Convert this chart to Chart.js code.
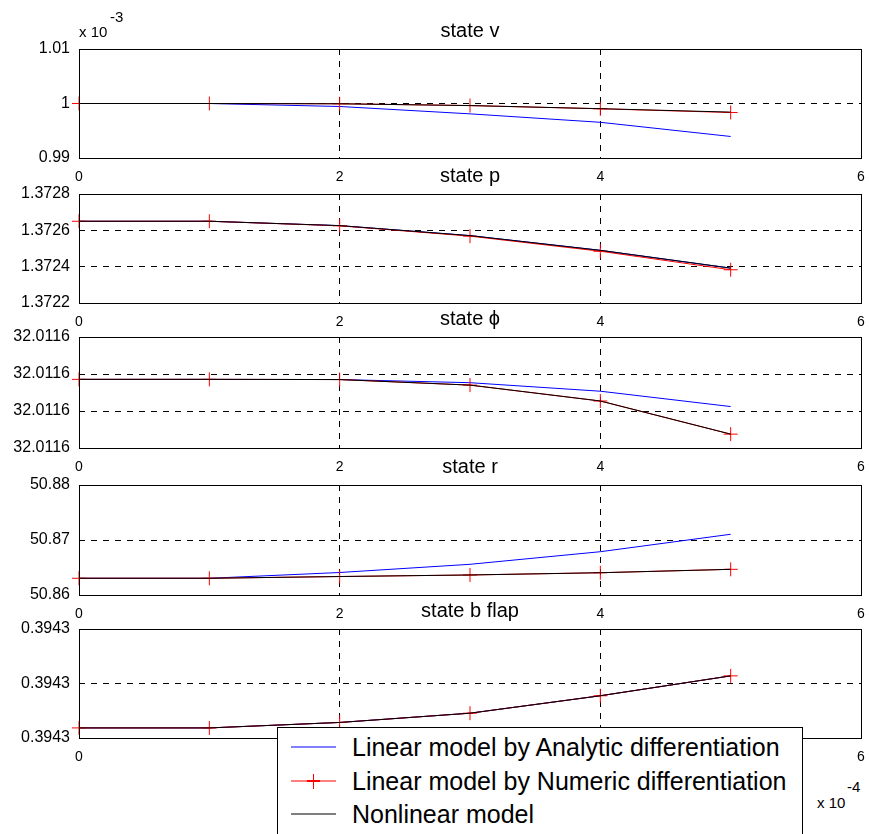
<!DOCTYPE html>
<html>
<head>
<meta charset="utf-8">
<title>States</title>
<script src="https://cdn.jsdelivr.net/npm/chart.js@4.4.1/dist/chart.umd.min.js"></script>
<style>
  html, body { margin: 0; padding: 0; background: #fff; }
  body { width: 869px; height: 834px; overflow: hidden; position: relative;
         font-family: Arial, "Liberation Sans", Helvetica, sans-serif; color: #000; }
  canvas { position: absolute; left: 0; }
  .exp { position: absolute; font-size: 15px; line-height: 16px; white-space: nowrap; z-index: 6; }
  #legend { position: absolute; left: 277px; top: 727px; width: 526px; height: 120px;
            border: 1px solid #000; background: #fff; z-index: 5; box-sizing: border-box; }
  .row { position: absolute; left: 0; width: 100%; height: 30px; font-size: 25px; line-height: 30px; }
  .row svg { position: absolute; left: 13px; top: 0; }
  .row .label { position: absolute; left: 74px; top: 0; white-space: nowrap; }
</style>
</head>
<body>

<canvas id="panel0"></canvas>
<canvas id="panel1"></canvas>
<canvas id="panel2"></canvas>
<canvas id="panel3"></canvas>
<canvas id="panel4"></canvas>

<span class="exp" style="left:79px; top:24px;">x 10</span>
<span class="exp" style="left:110px; top:9px;">-3</span>
<span class="exp" style="left:817px; top:795px;">x 10</span>
<span class="exp" style="left:847px; top:779px;">-4</span>

<div id="legend">
  <div class="row" style="top:4px;">
    <svg width="46" height="30"><line x1="0" y1="15" x2="45" y2="15" stroke="#0000ff" stroke-width="1.2"/></svg>
    <span class="label">Linear model by Analytic differentiation</span>
  </div>
  <div class="row" style="top:38px;">
    <svg width="46" height="30"><line x1="0" y1="15" x2="45" y2="15" stroke="#ff0000" stroke-width="1.2"/>
      <line x1="16" y1="15" x2="29" y2="15" stroke="#ff0000" stroke-width="2"/>
      <line x1="22.5" y1="8" x2="22.5" y2="23" stroke="#ff0000" stroke-width="1"/></svg>
    <span class="label">Linear model by Numeric differentiation</span>
  </div>
  <div class="row" style="top:71px;">
    <svg width="46" height="30"><line x1="0" y1="15" x2="45" y2="15" stroke="#000" stroke-width="1.2"/></svg>
    <span class="label">Nonlinear model</span>
  </div>
</div>

<script>
  // time samples (x 10^-4)
  const xValues = [0, 1, 2, 3, 4, 5];
  const xTicks = [0, 2, 4, 6];

  // state v (x 10^-3)
  const vAnalytic = [1.0000, 1.0000, 0.99945, 0.9981, 0.99655, 0.99395];
  const vNumeric = [1.0000, 1.0000, 0.99995, 0.99962, 0.99903, 0.99835];
  const vNonlinear = [1.0000, 1.0000, 0.99995, 0.99962, 0.99905, 0.99842];
  const vTicks = [0.99, 1.0, 1.01];
  const vTickLabels = ['0.99', '1', '1.01'];

  // state p
  const pAnalytic = [1.37265, 1.37265, 1.372626, 1.372571, 1.37249, 1.372392];
  const pNumeric = [1.37265, 1.37265, 1.372625, 1.372568, 1.372485, 1.372383];
  const pNonlinear = [1.37265, 1.37265, 1.372626, 1.372571, 1.37249, 1.372392];
  const pTicks = [1.3722, 1.3724, 1.3726, 1.3728];
  const pTickLabels = ['1.3722', '1.3724', '1.3726', '1.3728'];

  // state phi
  const phiAnalytic = [32.0116171, 32.0116171, 32.0116170, 32.0116153, 32.0116107, 32.0116024];
  const phiNumeric = [32.0116171, 32.0116171, 32.0116170, 32.0116140, 32.0116054, 32.0115875];
  const phiNonlinear = [32.0116171, 32.0116171, 32.0116170, 32.0116140, 32.0116054, 32.0115875];
  const phiTicks = [32.01158, 32.01160, 32.01162, 32.01164];
  const phiTickLabels = ['32.0116', '32.0116', '32.0116', '32.0116'];

  // state r
  const rAnalytic = [50.86304, 50.86304, 50.86409, 50.86558, 50.86787, 50.87104];
  const rNumeric = [50.86304, 50.86304, 50.86336, 50.86364, 50.86405, 50.86467];
  const rNonlinear = [50.86304, 50.86304, 50.86336, 50.86364, 50.86405, 50.86467];
  const rTicks = [50.86, 50.87, 50.88];
  const rTickLabels = ['50.86', '50.87', '50.88'];

  // state b flap
  const bAnalytic = [0.3942837, 0.3942837, 0.3942857, 0.3942891, 0.3942955, 0.3943028];
  const bNumeric = [0.3942837, 0.3942837, 0.3942857, 0.3942891, 0.3942955, 0.3943028];
  const bNonlinear = [0.3942837, 0.3942837, 0.3942857, 0.3942891, 0.3942955, 0.3943028];
  const bTicks = [0.39428, 0.39430, 0.39432];
  const bTickLabels = ['0.3943', '0.3943', '0.3943'];

  const titles = ['state v', 'state p', 'state \u03D5', 'state r', 'state b flap'];

  // plot area placement on the page
  const plotTops = [49, 194, 337, 485, 629];
  const plotBottoms = [158, 303, 448, 595, 738];
  const TOP_SPACE = 30;
  const BOTTOM_SPACE = 30;

  const FONT = 'Arial, "Liberation Sans", Helvetica, sans-serif';
  Chart.defaults.font.family = FONT;
  Chart.defaults.color = '#000';

  const frame = {
    id: 'frame',
    afterDatasetsDraw(chart) {
      const a = chart.chartArea;
      const ctx = chart.ctx;
      ctx.save();
      ctx.strokeStyle = '#000';
      ctx.lineWidth = 1;
      ctx.setLineDash([]);
      ctx.strokeRect(Math.round(a.left) + 0.5, Math.round(a.top) + 0.5,
        Math.round(a.right - a.left), Math.round(a.bottom - a.top));
      ctx.restore();
    }
  };

  function points(ys) {
    return xValues.map((x, i) => ({ x: x, y: ys[i] }));
  }

  function makePanel(idx, analytic, numeric, nonlinear, yTicks, yTickLabels) {
    const el = document.getElementById('panel' + idx);
    const plotH = plotBottoms[idx] - plotTops[idx];
    el.width = 869;
    el.height = TOP_SPACE + plotH + BOTTOM_SPACE;
    el.style.top = (plotTops[idx] - TOP_SPACE) + 'px';

    new Chart(el, {
      type: 'line',
      data: {
        datasets: [
          { label: 'Nonlinear model', data: points(nonlinear), borderColor: '#000', borderWidth: 1,
            pointRadius: 0, tension: 0, order: 1 },
          { label: 'Linear model by Numeric differentiation', data: points(numeric), borderColor: '#ff0000',
            borderWidth: 1, pointStyle: 'cross', pointRadius: 7, pointBorderColor: '#ff0000',
            pointBorderWidth: 1, tension: 0, order: 2, clip: false },
          { label: 'Linear model by Analytic differentiation', data: points(analytic), borderColor: '#0000ff',
            borderWidth: 1, pointRadius: 0, tension: 0, order: 3 }
        ]
      },
      options: {
        responsive: false,
        animation: false,
        devicePixelRatio: 1,
        events: [],
        layout: { padding: { top: 0, right: 6, bottom: 0, left: 0 } },
        plugins: {
          legend: { display: false },
          tooltip: { enabled: false },
          title: {
            display: true,
            text: titles[idx],
            fullSize: false,
            color: '#000',
            font: { size: 20, weight: 'normal', family: FONT },
            padding: { top: 0, bottom: 6 }
          }
        },
        scales: {
          x: {
            type: 'linear',
            min: xTicks[0],
            max: xTicks[xTicks.length - 1],
            afterBuildTicks: (s) => { s.ticks = xTicks.map(v => ({ value: v })); },
            afterFit: (s) => { s.height = BOTTOM_SPACE; s.paddingLeft = 0; s.paddingRight = 0; },
            grid: { color: '#000', lineWidth: 1, drawTicks: false },
            border: { display: false, dash: [6, 6] },
            ticks: { autoSkip: false, maxRotation: 0, padding: 11, color: '#000',
              font: { size: 14 }, callback: (v) => String(v) }
          },
          y: {
            type: 'linear',
            min: yTicks[0],
            max: yTicks[yTicks.length - 1],
            afterBuildTicks: (s) => { s.ticks = yTicks.map(v => ({ value: v })); },
            afterFit: (s) => { s.width = 79; },
            grid: { color: '#000', lineWidth: 1, drawTicks: false },
            border: { display: false, dash: [6, 6] },
            ticks: { autoSkip: false, padding: 9, color: '#000', font: { size: 16 },
              callback: (v, i) => yTickLabels[i] }
          }
        }
      },
      plugins: [frame]
    });
  }

  makePanel(0, vAnalytic, vNumeric, vNonlinear, vTicks, vTickLabels);
  makePanel(1, pAnalytic, pNumeric, pNonlinear, pTicks, pTickLabels);
  makePanel(2, phiAnalytic, phiNumeric, phiNonlinear, phiTicks, phiTickLabels);
  makePanel(3, rAnalytic, rNumeric, rNonlinear, rTicks, rTickLabels);
  makePanel(4, bAnalytic, bNumeric, bNonlinear, bTicks, bTickLabels);
</script>
</body>
</html>
